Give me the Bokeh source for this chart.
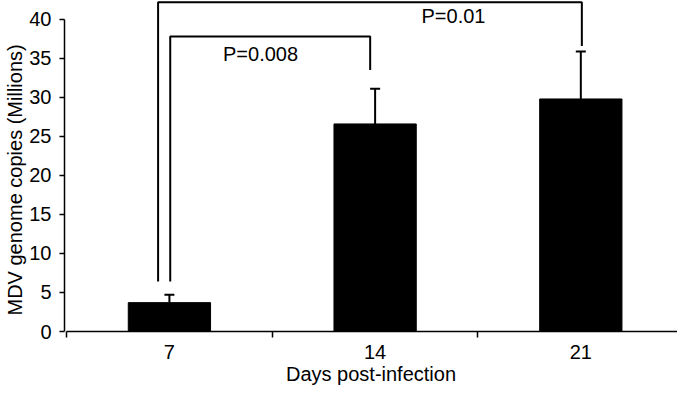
from bokeh.plotting import figure
from bokeh.models import Range1d, FixedTicker, Whisker, TeeHead, ColumnDataSource, Title
from bokeh.embed import file_html
from bokeh.resources import INLINE
from bokeh.core.properties import value

# ---- data ----
days = ["7", "14", "21"]
means = [3.7, 26.6, 29.8]
errors = [1.0, 4.5, 6.1]

y_ticks = [0, 5, 10, 15, 20, 25, 30, 35, 40]

# significance brackets (x in category units: category i spans [i, i+1])
bracket_x0 = [0.504, 0.445]
bracket_x1 = [1.476, 2.505]
bracket_top = [37.8, 42.2]
bracket_y0 = [6.4, 6.4]
bracket_y1 = [33.5, 36.6]
p_labels = ["P=0.008", "P=0.01"]
p_x = [0.943, 1.881]
p_y = [35.6, 40.4]

x_title = "Days post-infection"
y_title = "MDV genome copies (Millions)"

FONT = "Liberation Sans"

xs_pos = [i + 0.5 for i in range(len(days))]
upper = [m + e for m, e in zip(means, errors)]
src = ColumnDataSource(dict(x=xs_pos, top=means, upper=upper))

p = figure(width=677, height=387, output_backend="svg", toolbar_location=None,
           x_range=Range1d(-0.01, 2.97), y_range=Range1d(0, 42.42),
           min_border_left=64, min_border_right=0, min_border_top=0, min_border_bottom=54)
p.outline_line_color = None
p.grid.visible = False
p.background_fill_color = "white"
p.border_fill_color = "white"

p.vbar(x="x", top="top", bottom=0, width=0.4, source=src,
       fill_color="black", line_color="black")

w = Whisker(base="x", lower="top", upper="upper", source=src,
            line_color="black", line_width=2,
            upper_head=TeeHead(size=10, line_color="black", line_width=2),
            lower_head=None)
p.add_layout(w)

xs_lines = [[a, a, b, b] for a, b in zip(bracket_x0, bracket_x1)]
ys_lines = [[y0, t, t, y1] for y0, t, y1 in zip(bracket_y0, bracket_top, bracket_y1)]
p.multi_line(xs_lines, ys_lines, line_color="black", line_width=2)

p.text(x=p_x, y=p_y, text=p_labels, text_align="center", text_baseline="middle",
       text_font=value(FONT), text_font_size="20px", text_color="black")

# x axis
xa = p.xaxis[0]
xa.ticker = FixedTicker(ticks=xs_pos, minor_ticks=[0, 1, 2, 3])
xa.major_label_overrides = {x: d for x, d in zip(xs_pos, days)}
xa.major_tick_out = 0
xa.major_tick_in = 0
xa.minor_tick_out = 6
xa.minor_tick_in = 0
xa.minor_tick_line_color = "black"
xa.minor_tick_line_width = 1.5
xa.axis_line_width = 1.5
xa.axis_line_color = "black"
xa.major_label_text_font = FONT
xa.major_label_text_font_size = "20px"
xa.major_label_text_color = "black"
xa.major_label_standoff = 7
xa.axis_label = x_title
xa.axis_label_text_font = FONT
xa.axis_label_text_font_size = "20px"
xa.axis_label_text_font_style = "normal"
xa.axis_label_text_color = "black"
xa.axis_label_standoff = 1
xa.bounds = (0, 3)

# y axis
ya = p.yaxis[0]
ya.ticker = FixedTicker(ticks=y_ticks, minor_ticks=[])
ya.bounds = (0, 40)
ya.major_tick_out = 5
ya.major_tick_in = 0
ya.major_tick_line_width = 1.5
ya.major_tick_line_color = "black"
ya.axis_line_width = 1.5
ya.axis_line_color = "black"
ya.minor_tick_line_color = None
ya.major_label_text_font = FONT
ya.major_label_text_font_size = "20px"
ya.major_label_text_color = "black"
ya.major_label_standoff = 8

# y title as a left-side Title so it can be centred on the 0-40 axis span
yt = Title(text=y_title, align="left", offset=16, standoff=2,
           text_font=FONT, text_font_size="20px", text_font_style="normal",
           text_color="black")
p.add_layout(yt, "left")

open("out.html", "w").write(file_html(p, INLINE))
